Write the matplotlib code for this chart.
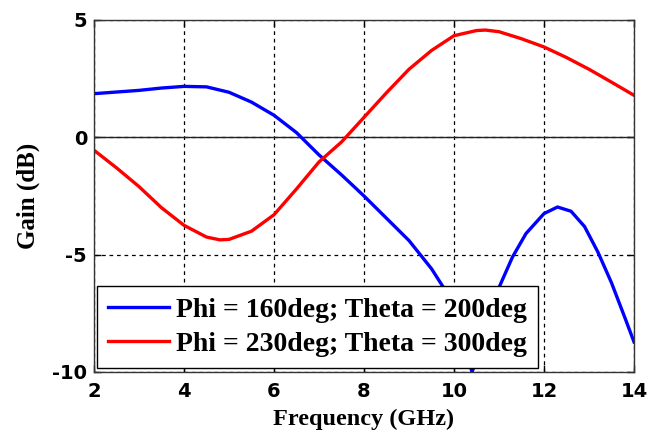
import matplotlib
matplotlib.use("Agg")
import matplotlib.pyplot as plt

# values (GHz, dB)
freq_blue = [2.0, 2.5, 3.0, 3.5, 4.0, 4.5, 5.0, 5.5, 6.0, 6.5, 7.0, 7.5, 8.0, 8.5,
             9.0, 9.5, 9.8, 10.1, 10.4, 10.7, 11.0, 11.3, 11.6, 12.0, 12.3, 12.6,
             12.9, 13.2, 13.5, 13.8, 14.0]
gain_blue = [1.86, 1.93, 2.0, 2.1, 2.17, 2.15, 1.92, 1.5, 0.94, 0.2, -0.75, -1.6,
             -2.5, -3.45, -4.4, -5.6, -6.5, -8.0, -10.0, -8.5, -6.4, -5.1, -4.1,
             -3.25, -2.97, -3.15, -3.8, -4.9, -6.2, -7.7, -8.72]

freq_red = [2.0, 2.5, 3.0, 3.5, 4.0, 4.5, 4.8, 5.0, 5.5, 6.0, 6.5, 7.0, 7.5, 8.0,
            8.5, 9.0, 9.5, 10.0, 10.5, 10.7, 11.0, 11.5, 12.0, 12.5, 13.0, 13.5, 14.0]
gain_red = [-0.55, -1.3, -2.1, -3.0, -3.75, -4.25, -4.37, -4.35, -4.0, -3.3, -2.2,
            -1.05, -0.2, 0.85, 1.9, 2.9, 3.7, 4.33, 4.55, 4.57, 4.5, 4.2, 3.85,
            3.4, 2.9, 2.35, 1.79]

labels = ["Phi = 160deg; Theta = 200deg", "Phi = 230deg; Theta = 300deg"]
xticks = [2, 4, 6, 8, 10, 12, 14]
yticks = [-10, -5, 0, 5]

fig = plt.figure(figsize=(6.5, 4.43), dpi=100)
ax = fig.add_axes([0.1446, 0.1603, 0.8308, 0.7946])

ax.plot(freq_blue, gain_blue, color="#0000ff", lw=2.4, label=labels[0])
ax.plot(freq_red, gain_red, color="#ff0000", lw=2.4, label=labels[1])
ax.axhline(0, color="#222222", lw=1.0, zorder=1.5)

ax.set_xlim(2, 14)
ax.set_ylim(-10, 5)
ax.set_xticks(xticks)
ax.set_yticks(yticks)
ax.grid(True, color="black", linestyle=(0, (3, 3)), lw=0.9)
ax.set_axisbelow(True)

tick_font = {"family": "DejaVu Sans", "weight": "bold", "size": 14}
ax.set_xticklabels([str(t) for t in xticks], fontdict=tick_font)
ax.set_yticklabels([str(t) for t in yticks], fontdict=tick_font)
ax.tick_params(direction="in", top=True, right=True, length=5, width=1, pad=5)
ax.tick_params(axis="x", pad=7)
for s in ax.spines.values():
    s.set_linewidth(1.0)
    s.set_color("#333333")

ax.set_xlabel("Frequency (GHz)", family="Liberation Serif", weight="bold",
              size=17.5, labelpad=6)
ax.set_ylabel("Gain (dB)", family="Liberation Serif", weight="bold",
              size=18, labelpad=9)

leg = ax.legend(loc="lower left", bbox_to_anchor=(0.005, 0.012),
                prop={"family": "Liberation Serif", "weight": "bold", "size": 20},
                frameon=True, fancybox=False, framealpha=1, edgecolor="black",
                handlelength=2.2, handletextpad=0.25, labelspacing=0.3,
                borderpad=0.4, borderaxespad=0)
leg.get_frame().set_linewidth(1.0)

fig.savefig("out.png", dpi=100)
